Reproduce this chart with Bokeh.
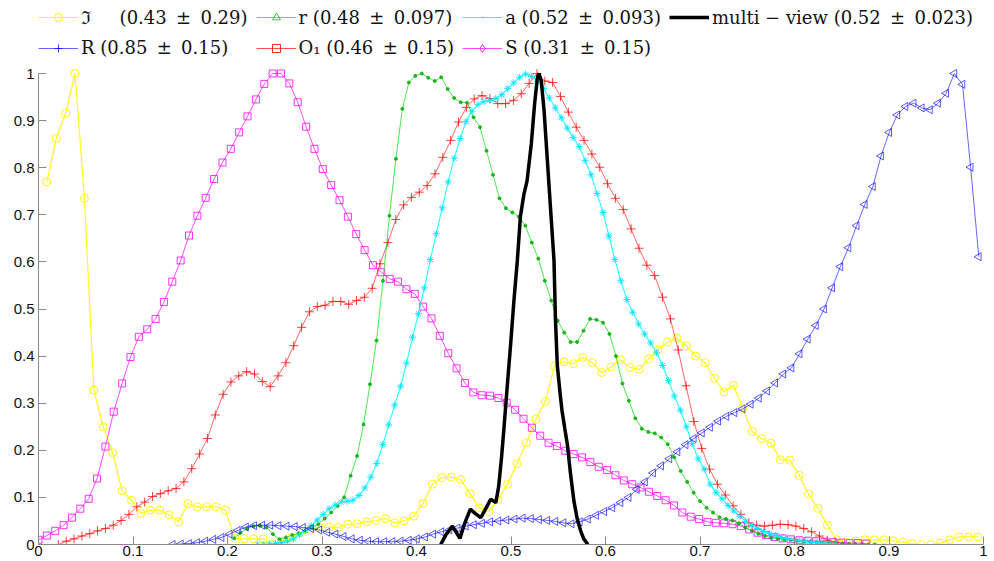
import numpy as np
from bokeh.plotting import figure
from bokeh.models import Range1d, FixedTicker, PrintfTickFormatter, Legend, LegendItem
from bokeh.embed import file_html
from bokeh.resources import INLINE

# ---------------- data ----------------
ticks = [0, 0.1, 0.2, 0.3, 0.4, 0.5, 0.6, 0.7, 0.8, 0.9, 1]

NB = "\u00a0"
TH = "\u2009"
PM = " " + TH + "\u00b1" + TH + " "
labels = ["\u2111" + NB * 4 + " (0.43" + PM + "0.29)",
          "r (0.48" + PM + "0.097)",
          "a (0.52" + PM + "0.093)",
          "multi \u2212 view (0.52" + PM + "0.023)",
          "R (0.85" + PM + "0.15)",
          "O\u2081 (0.46" + PM + "0.15)",
          "S (0.31" + PM + "0.15)"]

# Im (yellow, circles): x grid 0.0088 .. 0.994
im_x_range = (0.0088, 0.994)
im_y = [.770, .862, .916, 1.0, .735, .328, .250, .195, .114, .094,
        .066, .073, .073, .063, .048, .087, .080, .080, .080, .073,
        .013, .012, .012, .012, .000, .007, .015, .025, .032, .036,
        .037, .036, .043, .044, .048, .051, .055, .046, .050, .060,
        .087, .128, .142, .143, .138, .108, .078, .070, .095, .128,
        .172, .216, .266, .304, .379, .388, .384, .397, .386,
        .365, .377, .392, .376, .372, .394, .413, .430, .438, .422,
        .400, .386, .353, .324, .338, .290, .240, .225, .215, .180,
        .179, .147, .107, .077, .041, .010, .005, .007, .010, .010,
        .010, .008, .005, .002, .000, .000, .003, .010, .016, .016,
        .016]

# r (green, dots)
r_x_range = (0.207, 0.885)
r_y = [.013, .025, .034, .039, .040, .036, .022, .011, .015, .020,
       .024, .029, .035, .043, .055, .068, .082, .100, .146, .188,
       .255, .340, .433, .560, .698, .819, .925, .981, .995, 1.0,
       .991, .984, .992, .967, .948, .939, .938, .907, .886, .836,
       .785, .735, .714, .705, .696, .677, .641, .607, .560, .518,
       .475, .450, .430, .430, .454, .479, .477, .471, .447, .400,
       .342, .305, .268, .246, .239, .236, .227, .213, .185, .156,
       .133, .110, .092, .078, .068, .058, .054, .051, .045, .036,
       .029, .023, .018, .014, .012, .010, .009, .008, .007, .006,
       .005, .004, .003, .002, .002, .001, .001, .000, .000, .000]

# a (cyan, asterisks)
a_x_range = (0.232, 0.843)
a_y = [.000, .000, .001, .002, .004, .007, .012, .020, .029, .040,
       .052, .064, .076, .084, .090, .092, .094, .104, .120, .143,
       .172, .212, .254, .296, .336, .385, .440, .490, .545, .605,
       .660, .715, .770, .820, .862, .898, .920, .934, .940, .943,
       .947, .955, .968, .980, .992, .999, .994, .984, .968, .948,
       .927, .906, .884, .864, .845, .815, .785, .745, .705, .655,
       .605, .560, .520, .493, .468, .447, .428, .407, .380, .348,
       .315, .285, .250, .214, .182, .160, .128, .110, .097, .083,
       .071, .060, .049, .041, .034, .028, .023, .019, .015, .012,
       .010, .008, .006, .005, .004, .003, .002, .001]

# multi-view (black, thick line)
mv_x = [0.4256, 0.431, 0.438, 0.442, 0.446, 0.451, 0.457, 0.462, 0.468, 0.473,
        0.4785, 0.484, 0.487, 0.490, 0.4926, 0.496, 0.4996, 0.503, 0.5067, 0.510,
        0.5137, 0.517, 0.5215, 0.525, 0.528, 0.5296, 0.532, 0.535, 0.5385, 0.542,
        0.5455, 0.547, 0.549, 0.552, 0.554, 0.557, 0.5596, 0.563, 0.5666, 0.570,
        0.5737, 0.577, 0.5814]
mv_y = [0.0, 0.020, 0.039, 0.026, 0.013, 0.045, 0.075, 0.066, 0.057, 0.075,
        0.096, 0.089, 0.124, 0.185, 0.248, 0.335, 0.425, 0.515, 0.603, 0.697,
        0.744, 0.772, 0.851, 0.936, 0.992, 1.0, 0.985, 0.921, 0.815, 0.709,
        0.603, 0.48, 0.38, 0.32, 0.284, 0.245, 0.213, 0.15, 0.092, 0.055,
        0.029, 0.012, 0.0]

# R (blue, left triangles)
R_x_range = (0.142, 0.995)
R_y = [.000, .001, .002, .004, .007, .011, .015, .022, .030, .037,
       .040, .041, .041, .040, .039, .038, .036, .034, .031, .026,
       .022, .017, .012, .009, .007, .006, .006, .006, .007, .009,
       .012, .016, .022, .027, .031, .035, .039, .042, .045, .048,
       .050, .052, .054, .056, .055, .053, .051, .049, .046, .044,
       .048, .054, .062, .070, .078, .089, .100, .117, .133, .152,
       .167, .182, .197, .212, .225, .237, .249, .262, .272, .280,
       .288, .298, .311, .326, .343, .362, .375, .405, .436, .465,
       .500, .545, .590, .630, .677, .722, .760, .825, .875, .912,
       .930, .937, .927, .923, .937, .958, 1.000, .977, .801, .611]

# O1 (red, plus)
O1_x_range = (0.021, 0.843)
O1_y = [.000, .007, .012, .018, .023, .029, .034, .041, .051, .064,
        .080, .090, .102, .108, .114, .119, .133, .161, .192, .225,
        .275, .319, .345, .358, .367, .362, .346, .335, .358, .386,
        .422, .461, .494, .505, .508, .516, .516, .510, .518, .525,
        .544, .596, .641, .690, .721, .737, .748, .762, .787, .822,
        .858, .897, .928, .946, .953, .947, .936, .936, .943, .957,
        .979, 1.0, .984, .981, .951, .918, .886, .858, .829, .801,
        .766, .735, .711, .670, .629, .593, .571, .525, .479, .413,
        .337, .261, .204, .160, .128, .105, .082, .064, .046, .041,
        .039, .041, .043, .042, .039, .034, .027, .018, .009, .005]

# S (magenta, squares)
S_x_range = (0.0, 0.876)
S_y = [.010, .019, .029, .041, .057, .076, .097, .140, .208, .282,
       .342, .398, .441, .457, .479, .515, .558, .603, .656, .698,
       .736, .776, .811, .840, .875, .909, .945, .978, 1.0, 1.0,
       .979, .939, .887, .840, .797, .763, .731, .696, .659, .625,
       .593, .578, .564, .558, .542, .532, .505, .480, .443, .406,
       .374, .343, .323, .317, .316, .311, .301, .286, .267, .248,
       .231, .216, .209, .199, .192, .185, .175, .165, .158, .147,
       .136, .128, .121, .112, .103, .094, .083, .068, .059, .054,
       .048, .046, .045, .043, .039, .032, .025, .020, .016, .013,
       .011, .009, .008, .007, .006, .005, .004, .003, .003, .002]


def grid(rng, vals):
    return np.linspace(rng[0], rng[1], len(vals))


# ---------------- figure ----------------
W, H = 994, 561
BOTTOM = 17          # x-axis panel height
Y1_PX = 73           # screen row of y = 1
frame_h = H - BOTTOM
ymax = frame_h / (frame_h - Y1_PX)   # room above y=1 for the legend

p = figure(width=W, height=H, output_backend="svg", toolbar_location=None,
           x_range=Range1d(0, 1), y_range=Range1d(0, ymax),
           min_border_left=38, min_border_right=11, min_border_top=0,
           min_border_bottom=BOTTOM, background_fill_color="white",
           border_fill_color="white")
p.outline_line_color = None
p.grid.visible = False

for ax in (p.xaxis[0], p.yaxis[0]):
    ax.ticker = FixedTicker(ticks=ticks)
    ax.formatter = PrintfTickFormatter(format="%g")
    ax.bounds = (0, 1)
    ax.major_tick_in = 8
    ax.major_tick_out = 0
    ax.minor_tick_line_color = None
    ax.axis_line_color = "#8a8a8a"
    ax.major_tick_line_color = "#8a8a8a"
    ax.major_label_text_font = "Liberation Sans"
    ax.major_label_text_font_size = "15px"
    ax.major_label_text_color = "#111111"
    ax.major_label_standoff = 4
p.xaxis[0].major_label_standoff = 1

# yellow Im
x = grid(im_x_range, im_y)
p.line(x, im_y, line_color="#ffff00", line_width=1.2, line_alpha=0.9)
p.scatter(x, im_y, marker="circle", size=8, fill_color=None, line_color="#ffff00", line_alpha=0.95)

# magenta S
x = grid(S_x_range, S_y)
p.line(x, S_y, line_color="#ff00ff", line_width=1, line_alpha=0.7)
p.scatter(x, S_y, marker="square", size=7, fill_color=None, line_color="#ff00ff", line_alpha=0.8)

# red O1
x = grid(O1_x_range, O1_y)
p.line(x, O1_y, line_color="#ff0000", line_width=1, line_alpha=0.6)
p.scatter(x, O1_y, marker="cross", size=9, line_color="#ff0000", line_alpha=0.75)

# green r
x = grid(r_x_range, r_y)
p.line(x, r_y, line_color="#00dd00", line_width=1, line_alpha=0.7)
p.scatter(x, r_y, marker="circle", size=3, fill_color="#00aa00", line_color="#00aa00", alpha=0.8)

# cyan a
x = grid(a_x_range, a_y)
p.line(x, a_y, line_color="#00ffff", line_width=1.2, line_alpha=0.8)
p.scatter(x, a_y, marker="asterisk", size=7, line_color="#00e5ff", line_width=1, line_alpha=0.9)

# blue R
x = grid(R_x_range, R_y)
p.line(x, R_y, line_color="#0000ff", line_width=1, line_alpha=0.6)
p.scatter(x, R_y, marker="triangle", angle=np.pi / 2, size=8, fill_color=None,
          line_color="#0000ff", line_alpha=0.65)

# black multi-view
p.line(mv_x, mv_y, line_color="black", line_width=3.5)

# ---------------- legend (markers as shown in the reference legend) ----------------
far = [-5.0]
specs = [
    ("#ffff00", "circle", 8, 1.2, 0.9),
    ("#00dd00", "triangle", 8, 1, 0.7),
    ("#00ffff", "dot", 10, 1.2, 0.9),
    ("black", None, 0, 3.5, 1.0),
    ("#0000ff", "cross", 9, 1, 0.6),
    ("#ff0000", "square", 7, 1, 0.7),
    ("#ff00ff", "diamond", 8, 1, 0.7),
]
items = []
for lab, (col, mk, sz, lw, la) in zip(labels, specs):
    rl = p.line(far, far, line_color=col, line_width=lw, line_alpha=la)
    rends = [rl]
    if mk is not None:
        ang = np.pi / 2 if mk == "triangle" else 0
        rs = p.scatter(far, far, marker=mk, size=sz, angle=ang, fill_color=None,
                       line_color=col, line_alpha=min(1, la + 0.15))
        rends.append(rs)
    items.append(LegendItem(label=lab, renderers=rends))

legend_h = 52
legend = Legend(items=items, location=(0, frame_h - 6 - legend_h),
                orientation="horizontal", nrows=2,
                glyph_width=40, glyph_height=20, label_standoff=3, spacing=8,
                padding=0, margin=0, border_line_color=None, background_fill_alpha=0,
                label_text_font="DejaVu Serif", label_text_font_size="18px",
                label_text_color="#111111")
p.add_layout(legend)

open("out.html", "w").write(file_html(p, INLINE))
